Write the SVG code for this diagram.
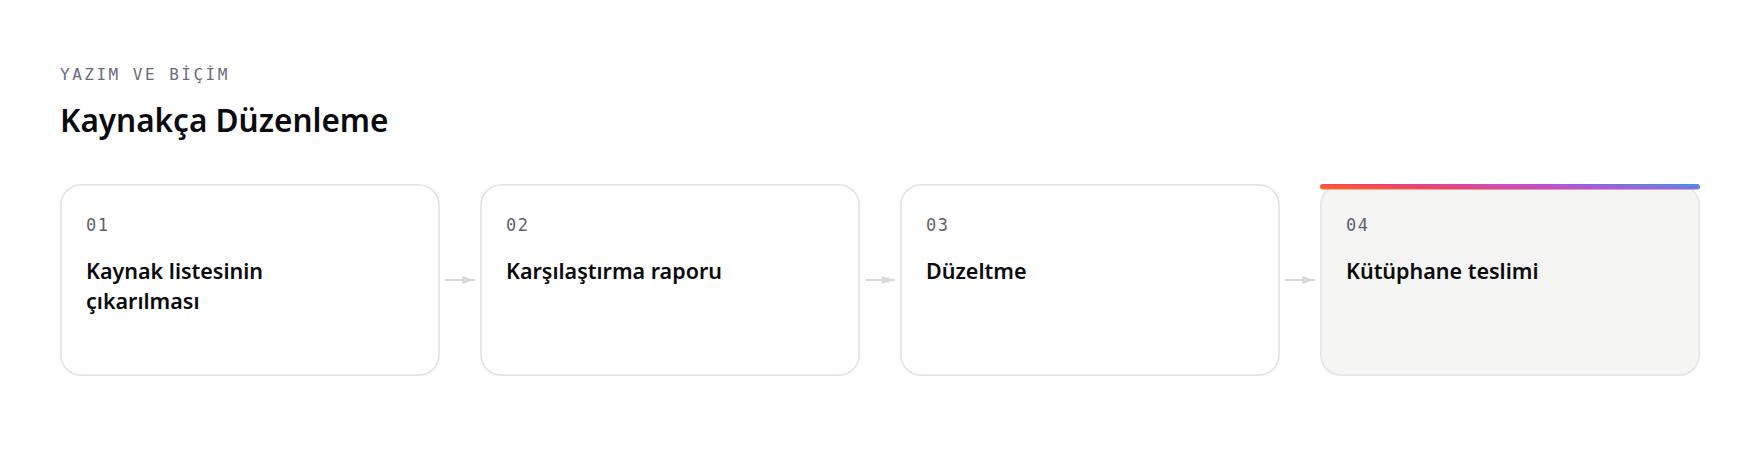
<svg xmlns="http://www.w3.org/2000/svg" width="1760" height="452" viewBox="0 0 1760 452">
  <style>
    .eyebrow { font-family: "DejaVu Sans Mono", "Liberation Mono", monospace; font-size: 16px; letter-spacing: 2.5px; fill: #6b6b7e; }
    .title { font-family: "Noto Sans", "Open Sans", sans-serif; font-size: 31.5px; font-weight: 600; fill: #0a0a0f; }
    .card { fill: #ffffff; stroke: #e6e6e8; stroke-width: 1.8; }
    .card.final { fill: #f5f5f4; }
    .num { font-family: "DejaVu Sans Mono", "Liberation Mono", monospace; font-size: 17px; letter-spacing: 1.5px; fill: #5f5f6c; }
    .label { font-family: "Noto Sans", "Open Sans", sans-serif; font-size: 21.5px; font-weight: 600; fill: #0a0a0f; }
    .conn { stroke: #dadade; stroke-width: 2; fill: none; }
  </style>
  <defs>
    <marker id="arrow" markerUnits="userSpaceOnUse" markerWidth="14" markerHeight="10" refX="13" refY="4" orient="auto">
      <path d="M0,0 L13,4 L0,8 Z" fill="#dadade"/>
    </marker>
    <linearGradient id="accent" x1="0" y1="1" x2="1.2" y2="0.6">
      <stop offset="0" stop-color="#f97316"/>
      <stop offset="0.3" stop-color="#ef4462"/>
      <stop offset="0.6" stop-color="#c04fd0"/>
      <stop offset="1" stop-color="#3b96e6"/>
    </linearGradient>
  </defs>
  <rect x="0" y="0" width="1760" height="452" fill="#ffffff"/>

  <g id="header">
    <text class="eyebrow" x="60" y="80">YAZIM VE BİÇİM</text>
    <text class="title" x="60" y="132">Kaynakça Düzenleme</text>
  </g>

  <g id="connectors">
    <line class="conn" x1="445" y1="280" x2="475" y2="280" marker-end="url(#arrow)"/>
    <line class="conn" x1="865" y1="280" x2="895" y2="280" marker-end="url(#arrow)"/>
    <line class="conn" x1="1285" y1="280" x2="1315" y2="280" marker-end="url(#arrow)"/>
  </g>

  <g id="step-01">
    <rect class="card" x="60.9" y="184.9" width="378.2" height="190.2" rx="20"/>
    <text class="num" x="86" y="231">01</text>
    <text class="label" x="86" y="279">Kaynak listesinin</text>
    <text class="label" x="86" y="309">çıkarılması</text>
  </g>

  <g id="step-02">
    <rect class="card" x="480.9" y="184.9" width="378.2" height="190.2" rx="20"/>
    <text class="num" x="506" y="231">02</text>
    <text class="label" x="506" y="279">Karşılaştırma raporu</text>
  </g>

  <g id="step-03">
    <rect class="card" x="900.9" y="184.9" width="378.2" height="190.2" rx="20"/>
    <text class="num" x="926" y="231">03</text>
    <text class="label" x="926" y="279">Düzeltme</text>
  </g>

  <g id="step-04">
    <rect class="card final" x="1320.9" y="184.9" width="378.2" height="190.2" rx="20"/>
    <rect x="1320" y="184" width="380" height="5.5" rx="2.75" fill="url(#accent)"/>
    <text class="num" x="1346" y="231">04</text>
    <text class="label" x="1346" y="279">Kütüphane teslimi</text>
  </g>
</svg>
